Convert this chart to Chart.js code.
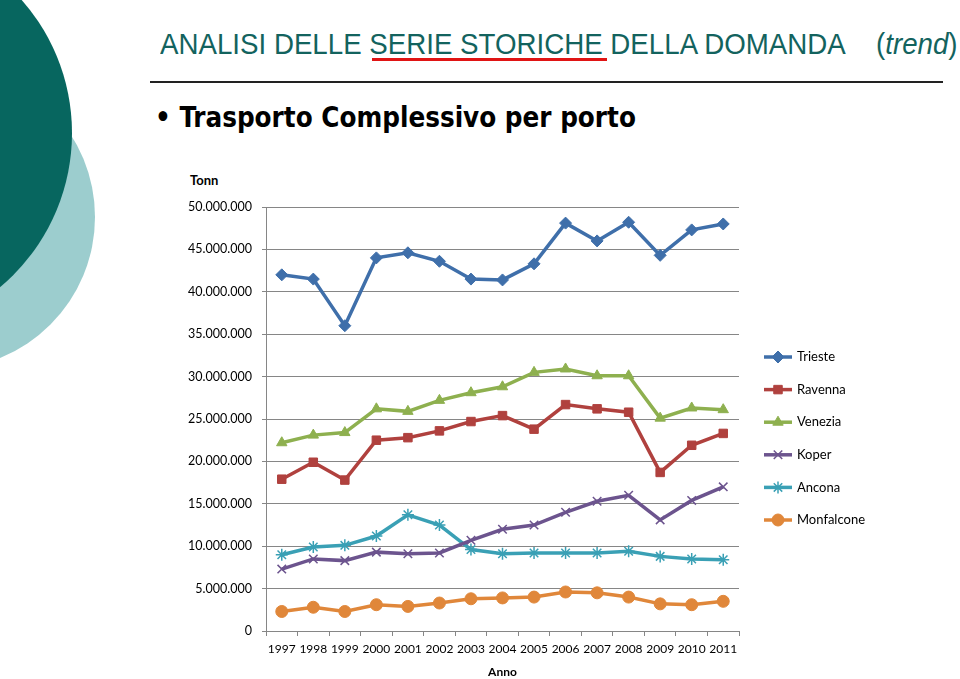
<!DOCTYPE html>
<html>
<head>
<meta charset="utf-8">
<script src="https://cdn.jsdelivr.net/npm/chart.js@4"></script>
<style>
  html, body { margin: 0; padding: 0; background: #fff; }
  body { width: 960px; height: 679px; position: relative; overflow: hidden; }
  .circle { position: absolute; border-radius: 50%; }
  #c2 { left: -209px; top: 65px; width: 304px; height: 304px; background: #9ccdce; }
  #c1 { left: -330px; top: -68px; width: 402px; height: 402px; background: #07665f; }
  .narrow { position: absolute; font-family: "Liberation Sans", Arial, sans-serif; color: #13635e; white-space: nowrap;
            transform-origin: 0 0; transform: scaleX(0.923); }
  #title { left: 160px; top: 27px; font-size: 30px; }
  #trend { left: 876px; top: 27px; font-size: 30px; }
  #underline { position: absolute; left: 372px; top: 58px; width: 235px; height: 3px; background: #e01414; }
  #rule { position: absolute; left: 150px; top: 81px; width: 793px; height: 2px; background: #222; }
  #bullet { position: absolute; left: 155px; top: 101px; font-family: "DejaVu Sans Condensed", "DejaVu Sans", sans-serif;
            font-weight: bold; font-size: 27.5px; color: #000; white-space: nowrap; }
  #tonn { position: absolute; left: 190px; top: 172px; font-family: Lato, sans-serif; font-weight: bold; font-size: 13px; }
  #wrap { position: absolute; left: 180px; top: 165px; width: 780px; height: 514px; }
</style>
</head>
<body>
<div class="circle" id="c2"></div>
<div class="circle" id="c1"></div>
<div class="narrow" id="title">ANALISI DELLE SERIE STORICHE DELLA DOMANDA</div>
<div class="narrow" id="trend">(<i>trend</i>)</div>
<div id="underline"></div>
<div id="rule"></div>
<div id="bullet">&bull; Trasporto Complessivo per porto</div>
<div id="tonn">Tonn</div>
<div id="wrap"><canvas id="chart" width="780" height="514"></canvas></div>

<script>
// Dati (milioni di tonnellate)
const anni = ['1997', '1998', '1999', '2000', '2001', '2002', '2003', '2004', '2005', '2006', '2007', '2008', '2009', '2010', '2011'];

const trieste    = [42.0, 41.5, 36.0, 44.0, 44.6, 43.6, 41.5, 41.4, 43.3, 48.1, 46.0, 48.2, 44.3, 47.3, 48.0];
const ravenna    = [17.9, 19.9, 17.8, 22.5, 22.8, 23.6, 24.7, 25.4, 23.8, 26.7, 26.2, 25.8, 18.7, 21.9, 23.3];
const venezia    = [22.2, 23.1, 23.4, 26.2, 25.9, 27.2, 28.1, 28.8, 30.5, 30.9, 30.1, 30.1, 25.1, 26.3, 26.1];
const koper      = [7.3, 8.5, 8.3, 9.3, 9.1, 9.2, 10.7, 12.0, 12.5, 14.0, 15.3, 16.0, 13.1, 15.4, 17.0];
const ancona     = [9.0, 9.9, 10.1, 11.2, 13.7, 12.5, 9.6, 9.1, 9.2, 9.2, 9.2, 9.4, 8.8, 8.5, 8.4];
const monfalcone = [2.3, 2.8, 2.3, 3.1, 2.9, 3.3, 3.8, 3.9, 4.0, 4.6, 4.5, 4.0, 3.2, 3.1, 3.5];

const yTicks = [0, 5000000, 10000000, 15000000, 20000000, 25000000, 30000000, 35000000, 40000000, 45000000, 50000000];

// milioni -> tonnellate
const tonn = arr => arr.map(v => Math.round(v * 1000000));

function formatIt(v) {
    return String(v).replace(/\B(?=(\d{3})+(?!\d))/g, '.');
}

function serie(label, data, color, pointStyle, radius) {
    return {
        label: label,
        data: tonn(data),
        borderColor: color,
        backgroundColor: color,
        borderWidth: 3.5,
        pointStyle: pointStyle,
        pointRadius: radius,
        pointBorderWidth: (pointStyle === 'crossRot' || pointStyle === 'star') ? 1.5 : 1,
        pointBorderColor: color,
        pointBackgroundColor: color,
        tension: 0
    };
}

// Legenda stile Excel: linea + marcatore
const legendaExcel = {
    id: 'legendaExcel',
    afterDraw(chart) {
        const ctx = chart.ctx;
        const x0 = 584, x1 = 612, xt = 617;
        let y = 192;
        chart.data.datasets.forEach(ds => {
            ctx.save();
            ctx.strokeStyle = ds.borderColor;
            ctx.lineWidth = 3.5;
            ctx.beginPath();
            ctx.moveTo(x0, y);
            ctx.lineTo(x1, y);
            ctx.stroke();
            ctx.fillStyle = ds.borderColor;
            ctx.lineWidth = ds.pointBorderWidth;
            Chart.helpers.drawPoint(ctx, { pointStyle: ds.pointStyle, radius: ds.pointRadius, borderWidth: ds.pointBorderWidth, rotation: 0 }, (x0 + x1) / 2, y);
            ctx.fillStyle = '#000';
            ctx.font = '13px Lato, sans-serif';
            ctx.textBaseline = 'middle';
            ctx.fillText(ds.label, xt, y);
            ctx.restore();
            y += 32.6;
        });
    }
};

const ctx = document.getElementById('chart').getContext('2d');

new Chart(ctx, {
    type: 'line',
    data: {
        labels: anni,
        datasets: [
            serie('Trieste', trieste, '#3f6faa', 'rectRot', 6),
            serie('Ravenna', ravenna, '#b0413e', 'rect', 6),
            serie('Venezia', venezia, '#8eb04f', 'triangle', 6),
            serie('Koper', koper, '#6c548e', 'crossRot', 6),
            serie('Ancona', ancona, '#3aa0b5', 'star', 6),
            serie('Monfalcone', monfalcone, '#e0873a', 'circle', 6)
        ]
    },
    options: {
        responsive: false,
        animation: false,
        layout: { padding: { top: 42, right: 221, left: 0, bottom: 0 } },
        plugins: {
            legend: { display: false },
            tooltip: { enabled: false }
        },
        scales: {
            x: {
                offset: true,
                grid: { offset: true, drawOnChartArea: false, tickLength: 5, color: '#868686' },
                border: { color: '#868686' },
                ticks: { color: '#000', font: { family: 'Lato', size: 12 }, padding: 6, maxRotation: 0, autoSkip: false },
                title: { display: true, text: 'Anno', color: '#000', font: { family: 'Lato', size: 12, weight: 'bold' }, padding: { top: 6, bottom: 0 } },
                afterFit(scale) { scale.height = 48; }
            },
            y: {
                min: 0,
                max: 50000000,
                afterBuildTicks(scale) { scale.ticks = yTicks.map(v => ({ value: v })); },
                grid: { color: '#868686', tickLength: 4 },
                border: { color: '#868686' },
                ticks: { color: '#000', font: { family: 'Lato', size: 12.5 }, padding: 10, callback: v => formatIt(v) },
                afterFit(scale) { scale.width = 86; }
            }
        }
    },
    plugins: [legendaExcel]
});
</script>
</body>
</html>
